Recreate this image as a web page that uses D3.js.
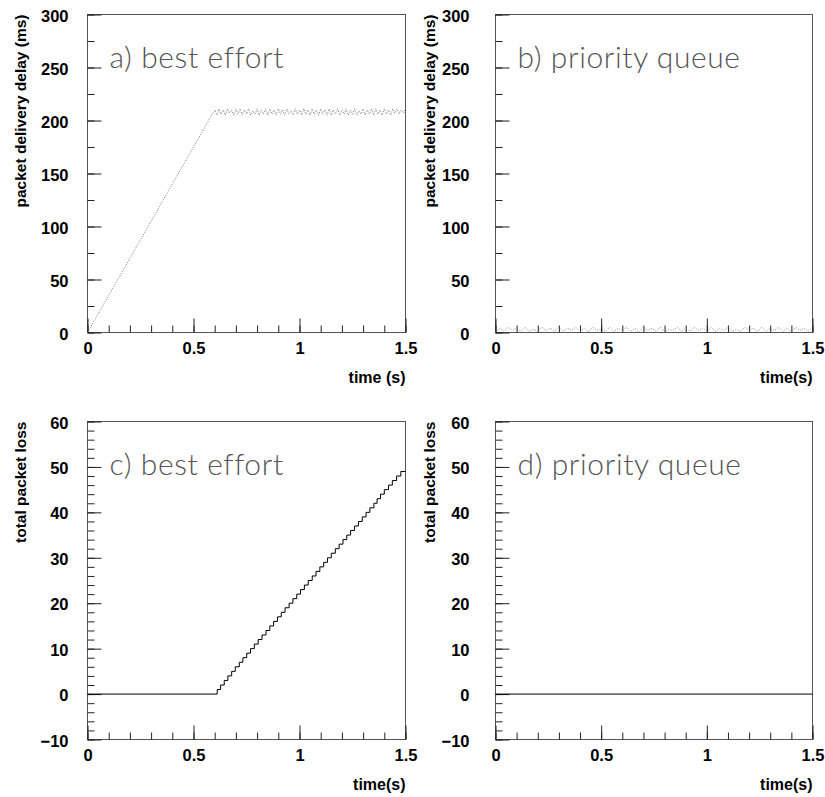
<!DOCTYPE html>
<html>
<head>
<meta charset="utf-8">
<script src="https://cdn.jsdelivr.net/npm/d3@7"></script>
<style>
  body { margin: 0; background: #fff; }
</style>
</head>
<body>
<svg id="chart" width="825" height="797"></svg>
<script>
// tick values
const timeTicks = [0, 0.5, 1, 1.5];
const delayTicks = [0, 50, 100, 150, 200, 250, 300];
const lossTicks = [-10, 0, 10, 20, 30, 40, 50, 60];

// a) best effort - delay ramps up then saturates around 205-211 ms
const bestEffortTimes = [
  0, 0.1, 0.2, 0.3, 0.4, 0.5, 0.6,
  0.61, 0.62, 0.63, 0.64, 0.65, 0.66, 0.67, 0.68, 0.69, 0.70,
  0.71, 0.72, 0.73, 0.74, 0.75, 0.76, 0.77, 0.78, 0.79, 0.80,
  0.81, 0.82, 0.83, 0.84, 0.85, 0.86, 0.87, 0.88, 0.89, 0.90,
  0.91, 0.92, 0.93, 0.94, 0.95, 0.96, 0.97, 0.98, 0.99, 1.00,
  1.01, 1.02, 1.03, 1.04, 1.05, 1.06, 1.07, 1.08, 1.09, 1.10,
  1.11, 1.12, 1.13, 1.14, 1.15, 1.16, 1.17, 1.18, 1.19, 1.20,
  1.21, 1.22, 1.23, 1.24, 1.25, 1.26, 1.27, 1.28, 1.29, 1.30,
  1.31, 1.32, 1.33, 1.34, 1.35, 1.36, 1.37, 1.38, 1.39, 1.40,
  1.41, 1.42, 1.43, 1.44, 1.45, 1.46, 1.47, 1.48, 1.49, 1.50
];
const bestEffortDelays = [
  0, 35, 70, 105, 140, 175, 210,
  205, 211, 206, 210, 205, 211, 207, 210, 205, 211,
  206, 211, 205, 210, 206, 211, 205, 209, 206, 211,
  205, 210, 206, 211, 205, 211, 206, 210, 205, 211,
  206, 210, 205, 211, 206, 209, 205, 211, 206, 210,
  205, 211, 206, 210, 205, 211, 206, 210, 205, 211,
  206, 210, 205, 211, 205, 210, 206, 211, 205, 210,
  206, 211, 205, 210, 206, 211, 205, 209, 206, 211,
  205, 210, 206, 211, 205, 211, 206, 210, 205, 211,
  206, 210, 205, 211, 207, 211, 206, 210, 207, 211
];

// b) priority queue - delay stays a few ms
const priorityTimes = [
  0, 0.02, 0.04, 0.06, 0.08, 0.10, 0.12, 0.14, 0.16, 0.18,
  0.20, 0.22, 0.24, 0.26, 0.28, 0.30, 0.32, 0.34, 0.36, 0.38,
  0.40, 0.42, 0.44, 0.46, 0.48, 0.50, 0.52, 0.54, 0.56, 0.58,
  0.60, 0.62, 0.64, 0.66, 0.68, 0.70, 0.72, 0.74, 0.76, 0.78,
  0.80, 0.82, 0.84, 0.86, 0.88, 0.90, 0.92, 0.94, 0.96, 0.98,
  1.00, 1.02, 1.04, 1.06, 1.08, 1.10, 1.12, 1.14, 1.16, 1.18,
  1.20, 1.22, 1.24, 1.26, 1.28, 1.30, 1.32, 1.34, 1.36, 1.38,
  1.40, 1.42, 1.44, 1.46, 1.48, 1.50
];
const priorityDelays = [
  1, 4, 1, 5, 2, 4, 1, 5, 1, 3,
  1, 5, 2, 4, 1, 5, 1, 4, 2, 5,
  1, 4, 1, 5, 2, 3, 1, 5, 1, 4,
  2, 5, 1, 4, 1, 5, 2, 4, 1, 5,
  1, 3, 2, 5, 1, 4, 1, 5, 2, 4,
  1, 5, 1, 4, 2, 5, 1, 3, 1, 5,
  2, 4, 1, 5, 1, 4, 2, 5, 1, 4,
  1, 5, 2, 4, 1, 5
];

// c) best effort - time of each lost packet (total loss = count)
const bestEffortLossTimes = [
  0.612, 0.628, 0.645, 0.662, 0.680, 0.697, 0.716, 0.733, 0.751, 0.769,
  0.787, 0.805, 0.823, 0.842, 0.860, 0.878, 0.896, 0.914, 0.932, 0.951,
  0.969, 0.987, 1.005, 1.023, 1.041, 1.060, 1.078, 1.096, 1.114, 1.132,
  1.150, 1.169, 1.187, 1.205, 1.223, 1.241, 1.260, 1.278, 1.296, 1.314,
  1.332, 1.351, 1.366, 1.382, 1.400, 1.420, 1.438, 1.458, 1.478
];

// d) priority queue - no loss
const priorityLossTimes = [0, 1.5];
const priorityLoss = [0, 0];

const svg = d3.select("#chart");
const boldFont = "'Liberation Sans', Arial, Helvetica, sans-serif";

function styleLabels(a) {
  a.selectAll(".tick text")
    .style("font-family", boldFont)
    .style("font-weight", "bold")
    .style("font-size", "16.5px")
    .attr("fill", "#000");
  a.selectAll(".tick line").attr("stroke", "#222");
  a.select(".domain").remove();
}

function drawPanel(cfg) {
  const w = cfg.w, h = cfg.h;
  const g = svg.append("g").attr("transform", "translate(" + (cfg.x + 0.5) + "," + (cfg.y + 0.5) + ")");

  const x = d3.scaleLinear().domain([0, 1.5]).range([0, w]);
  const y = d3.scaleLinear().domain(cfg.yDomain).range([h, 0]);

  // frame
  g.append("rect")
    .attr("width", w)
    .attr("height", h)
    .attr("fill", "none")
    .attr("stroke", "#555")
    .attr("stroke-width", 1);

  // minor ticks
  g.append("g")
    .attr("transform", "translate(0," + h + ")")
    .call(d3.axisBottom(x).tickValues(x.ticks(15)).tickSizeInner(-7).tickSizeOuter(0).tickFormat(""))
    .call(styleLabels);
  g.append("g")
    .call(d3.axisLeft(y).tickValues(cfg.yMinor).tickSizeInner(-7).tickSizeOuter(0).tickFormat(""))
    .call(styleLabels);

  // major ticks + labels
  g.append("g")
    .attr("transform", "translate(0," + h + ")")
    .call(d3.axisBottom(x).tickValues(timeTicks).tickSizeInner(-14).tickSizeOuter(0).tickPadding(10).tickFormat(d3.format("")))
    .call(styleLabels);
  g.append("g")
    .call(d3.axisLeft(y).tickValues(cfg.yTicks).tickSizeInner(-14).tickSizeOuter(0).tickPadding(cfg.labelPad))
    .call(styleLabels)
    .call(a => a.selectAll(".tick text").attr("dy", "0.4em"));

  // data
  const line = d3.line()
    .x(d => x(d[0]))
    .y(d => y(d[1]))
    .curve(cfg.curve || d3.curveLinear);
  g.append("path")
    .datum(cfg.points)
    .attr("d", line)
    .attr("fill", "none")
    .attr("stroke", cfg.stroke)
    .attr("stroke-width", 1)
    .attr("stroke-dasharray", cfg.dash || null);

  // titles
  g.append("text")
    .attr("x", w)
    .attr("y", h + 50)
    .attr("text-anchor", "end")
    .style("font-family", boldFont)
    .style("font-weight", "bold")
    .style("font-size", "16px")
    .text(cfg.xTitle);
  g.append("text")
    .attr("transform", "translate(" + cfg.yTitleX + ",0) rotate(-90)")
    .attr("text-anchor", "end")
    .style("font-family", boldFont)
    .style("font-weight", "bold")
    .style("font-size", "15.5px")
    .text(cfg.yTitle);

  g.append("text")
    .attr("x", 22)
    .attr("y", 53)
    .style("font-family", "Lato, 'Open Sans', sans-serif")
    .style("font-weight", "300")
    .style("font-size", "30px")
    .style("letter-spacing", "0.6px")
    .attr("fill", "#555")
    .text(cfg.label);
}

const delayMinor = d3.range(0, 301, 25);
const lossMinor = d3.range(-10, 61, 2);

drawPanel({
  x: 87, y: 14, w: 318, h: 318,
  yDomain: [0, 300], yTicks: delayTicks, yMinor: delayMinor, labelPad: 19,
  points: bestEffortTimes.map((t, i) => [t, bestEffortDelays[i]]),
  stroke: "#777", dash: "1,1.5",
  xTitle: "time (s)", yTitle: "packet delivery delay (ms)", yTitleX: -62,
  label: "a) best effort"
});

drawPanel({
  x: 495, y: 14, w: 317, h: 318,
  yDomain: [0, 300], yTicks: delayTicks, yMinor: delayMinor, labelPad: 26,
  points: priorityTimes.map((t, i) => [t, priorityDelays[i]]),
  stroke: "#888", dash: "1,1.5",
  xTitle: "time(s)", yTitle: "packet delivery delay (ms)", yTitleX: -61,
  label: "b) priority queue"
});

const lossSteps = [[0, 0]].concat(bestEffortLossTimes.map((t, i) => [t, i + 1]));
lossSteps.push([1.5, bestEffortLossTimes.length]);

drawPanel({
  x: 87, y: 421, w: 318, h: 318,
  yDomain: [-10, 60], yTicks: lossTicks, yMinor: lossMinor, labelPad: 19,
  points: lossSteps, curve: d3.curveStepAfter,
  stroke: "#000",
  xTitle: "time(s)", yTitle: "total packet loss", yTitleX: -62,
  label: "c) best effort"
});

drawPanel({
  x: 495, y: 421, w: 317, h: 318,
  yDomain: [-10, 60], yTicks: lossTicks, yMinor: lossMinor, labelPad: 26,
  points: priorityLossTimes.map((t, i) => [t, priorityLoss[i]]),
  stroke: "#000",
  xTitle: "time(s)", yTitle: "total packet loss", yTitleX: -61,
  label: "d) priority queue"
});
</script>
</body>
</html>
